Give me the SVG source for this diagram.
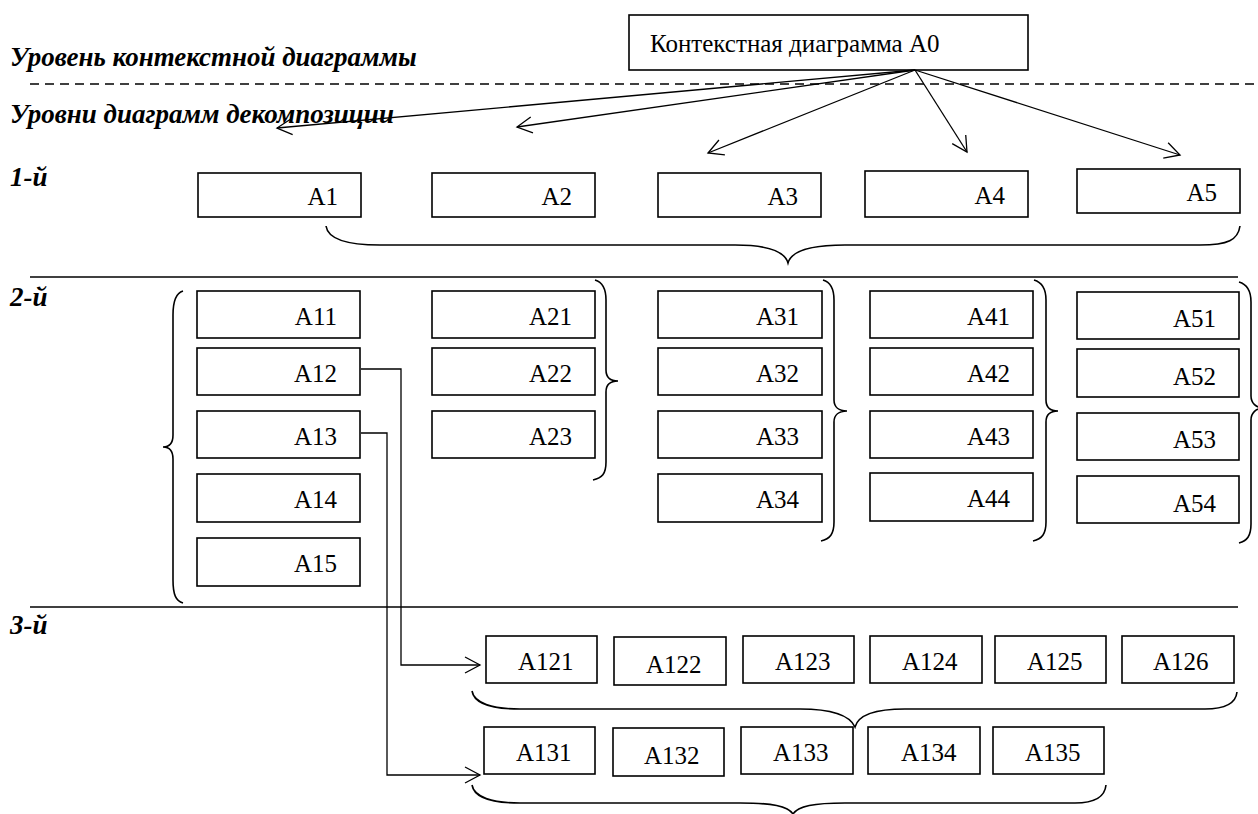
<svg xmlns="http://www.w3.org/2000/svg" width="1258" height="814" viewBox="0 0 1258 814" font-family="Liberation Serif">
  <defs>
    <style>
      text { font-family: "Liberation Serif", serif !important; fill: #000000; stroke: none; }
      .lbl { font-size: 25px; }
      .lvl { font-size: 27px; font-weight: bold; font-style: italic; }
      .box { fill: #ffffff; stroke: #000000; stroke-width: 1.6; }
      .rule { stroke: #000000; stroke-width: 1.6; fill: none; }
      .dash { stroke: #000000; stroke-width: 1.6; stroke-dasharray: 9 6; fill: none; }
      .brace { stroke: #000000; stroke-width: 1.6; fill: none; }
      .link { stroke: #000000; stroke-width: 1.3; fill: none; }
    </style>
    <marker id="open-arrow" markerUnits="userSpaceOnUse" markerWidth="20" markerHeight="20" refX="16" refY="9" orient="auto">
      <path d="M1,1 L16,9 L1,17" fill="none" stroke="#000000" stroke-width="1.3"/>
    </marker>
  </defs>

  <rect x="0" y="0" width="1258" height="814" fill="#ffffff"/>

  <!-- level captions and separators -->
  <g id="levels">
    <text class="lvl" style="font-family: 'Liberation Serif' !important" x="10" y="66">Уровень контекстной диаграммы</text>
    <text class="lvl" style="font-family: 'Liberation Serif' !important" x="10" y="123">Уровни диаграмм декомпозиции</text>
    <text class="lvl" style="font-family: 'Liberation Serif' !important" x="10" y="186">1-й</text>
    <text class="lvl" style="font-family: 'Liberation Serif' !important" x="10" y="306">2-й</text>
    <text class="lvl" style="font-family: 'Liberation Serif' !important" x="10" y="634">3-й</text>
    <line class="dash" x1="30" y1="84" x2="1258" y2="84"/>
    <line class="rule" x1="30" y1="277" x2="1238" y2="277"/>
    <line class="rule" x1="30" y1="607" x2="1238" y2="607"/>
  </g>

  <!-- context diagram -->
  <g id="A0">
    <rect class="box" x="629" y="15" width="399" height="55"/>
    <text class="lbl" style="font-family: 'Liberation Serif' !important" x="650" y="52">Контекстная диаграмма A0</text>
  </g>

  <!-- level 1 -->
  <g id="A1"><rect class="box" x="198" y="173" width="163" height="44"/><text class="lbl" style="font-family: 'Liberation Serif' !important" x="338" y="205" text-anchor="end">A1</text></g>
  <g id="A2"><rect class="box" x="432" y="173" width="163" height="44"/><text class="lbl" style="font-family: 'Liberation Serif' !important" x="572" y="205" text-anchor="end">A2</text></g>
  <g id="A3"><rect class="box" x="658" y="173" width="163" height="44"/><text class="lbl" style="font-family: 'Liberation Serif' !important" x="798" y="205" text-anchor="end">A3</text></g>
  <g id="A4"><rect class="box" x="865" y="171" width="163" height="46"/><text class="lbl" style="font-family: 'Liberation Serif' !important" x="1005" y="204" text-anchor="end">A4</text></g>
  <g id="A5"><rect class="box" x="1077" y="169" width="163" height="44"/><text class="lbl" style="font-family: 'Liberation Serif' !important" x="1217" y="201" text-anchor="end">A5</text></g>

  <!-- level 2, column 1 -->
  <g id="A11"><rect class="box" x="197" y="291" width="163" height="47"/><text class="lbl" style="font-family: 'Liberation Serif' !important" x="337" y="325" text-anchor="end">A11</text></g>
  <g id="A12"><rect class="box" x="197" y="348" width="163" height="47"/><text class="lbl" style="font-family: 'Liberation Serif' !important" x="337" y="382" text-anchor="end">A12</text></g>
  <g id="A13"><rect class="box" x="197" y="411" width="163" height="47"/><text class="lbl" style="font-family: 'Liberation Serif' !important" x="337" y="445" text-anchor="end">A13</text></g>
  <g id="A14"><rect class="box" x="197" y="474" width="163" height="48"/><text class="lbl" style="font-family: 'Liberation Serif' !important" x="337" y="508" text-anchor="end">A14</text></g>
  <g id="A15"><rect class="box" x="197" y="538" width="163" height="48"/><text class="lbl" style="font-family: 'Liberation Serif' !important" x="337" y="572" text-anchor="end">A15</text></g>

  <!-- level 2, column 2 -->
  <g id="A21"><rect class="box" x="432" y="291" width="163" height="47"/><text class="lbl" style="font-family: 'Liberation Serif' !important" x="572" y="325" text-anchor="end">A21</text></g>
  <g id="A22"><rect class="box" x="432" y="348" width="163" height="47"/><text class="lbl" style="font-family: 'Liberation Serif' !important" x="572" y="382" text-anchor="end">A22</text></g>
  <g id="A23"><rect class="box" x="432" y="411" width="163" height="47"/><text class="lbl" style="font-family: 'Liberation Serif' !important" x="572" y="445" text-anchor="end">A23</text></g>

  <!-- level 2, column 3 -->
  <g id="A31"><rect class="box" x="658" y="291" width="164" height="47"/><text class="lbl" style="font-family: 'Liberation Serif' !important" x="799" y="325" text-anchor="end">A31</text></g>
  <g id="A32"><rect class="box" x="658" y="348" width="164" height="47"/><text class="lbl" style="font-family: 'Liberation Serif' !important" x="799" y="382" text-anchor="end">A32</text></g>
  <g id="A33"><rect class="box" x="658" y="411" width="164" height="47"/><text class="lbl" style="font-family: 'Liberation Serif' !important" x="799" y="445" text-anchor="end">A33</text></g>
  <g id="A34"><rect class="box" x="658" y="474" width="164" height="48"/><text class="lbl" style="font-family: 'Liberation Serif' !important" x="799" y="508" text-anchor="end">A34</text></g>

  <!-- level 2, column 4 -->
  <g id="A41"><rect class="box" x="870" y="291" width="163" height="47"/><text class="lbl" style="font-family: 'Liberation Serif' !important" x="1010" y="325" text-anchor="end">A41</text></g>
  <g id="A42"><rect class="box" x="870" y="348" width="163" height="47"/><text class="lbl" style="font-family: 'Liberation Serif' !important" x="1010" y="382" text-anchor="end">A42</text></g>
  <g id="A43"><rect class="box" x="870" y="411" width="163" height="47"/><text class="lbl" style="font-family: 'Liberation Serif' !important" x="1010" y="445" text-anchor="end">A43</text></g>
  <g id="A44"><rect class="box" x="870" y="473" width="163" height="48"/><text class="lbl" style="font-family: 'Liberation Serif' !important" x="1010" y="507" text-anchor="end">A44</text></g>

  <!-- level 2, column 5 -->
  <g id="A51"><rect class="box" x="1077" y="292" width="162" height="47"/><text class="lbl" style="font-family: 'Liberation Serif' !important" x="1216" y="327" text-anchor="end">A51</text></g>
  <g id="A52"><rect class="box" x="1077" y="349" width="162" height="48"/><text class="lbl" style="font-family: 'Liberation Serif' !important" x="1216" y="385" text-anchor="end">A52</text></g>
  <g id="A53"><rect class="box" x="1077" y="413" width="162" height="47"/><text class="lbl" style="font-family: 'Liberation Serif' !important" x="1216" y="448" text-anchor="end">A53</text></g>
  <g id="A54"><rect class="box" x="1077" y="476" width="162" height="47"/><text class="lbl" style="font-family: 'Liberation Serif' !important" x="1216" y="512" text-anchor="end">A54</text></g>

  <!-- level 3, row A12 -->
  <g id="A121"><rect class="box" x="486" y="636" width="111" height="47"/><text class="lbl" style="font-family: 'Liberation Serif' !important" x="518" y="670">A121</text></g>
  <g id="A122"><rect class="box" x="614" y="637" width="112" height="48"/><text class="lbl" style="font-family: 'Liberation Serif' !important" x="646" y="673">A122</text></g>
  <g id="A123"><rect class="box" x="743" y="636" width="111" height="47"/><text class="lbl" style="font-family: 'Liberation Serif' !important" x="775" y="670">A123</text></g>
  <g id="A124"><rect class="box" x="870" y="636" width="112" height="47"/><text class="lbl" style="font-family: 'Liberation Serif' !important" x="902" y="670">A124</text></g>
  <g id="A125"><rect class="box" x="995" y="636" width="111" height="47"/><text class="lbl" style="font-family: 'Liberation Serif' !important" x="1027" y="670">A125</text></g>
  <g id="A126"><rect class="box" x="1122" y="636" width="112" height="47"/><text class="lbl" style="font-family: 'Liberation Serif' !important" x="1153" y="670">A126</text></g>

  <!-- level 3, row A13 -->
  <g id="A131"><rect class="box" x="484" y="727" width="111" height="47"/><text class="lbl" style="font-family: 'Liberation Serif' !important" x="516" y="761">A131</text></g>
  <g id="A132"><rect class="box" x="613" y="728" width="111" height="48"/><text class="lbl" style="font-family: 'Liberation Serif' !important" x="644" y="764">A132</text></g>
  <g id="A133"><rect class="box" x="741" y="727" width="112" height="47"/><text class="lbl" style="font-family: 'Liberation Serif' !important" x="773" y="761">A133</text></g>
  <g id="A134"><rect class="box" x="868" y="727" width="112" height="47"/><text class="lbl" style="font-family: 'Liberation Serif' !important" x="901" y="761">A134</text></g>
  <g id="A135"><rect class="box" x="993" y="727" width="111" height="47"/><text class="lbl" style="font-family: 'Liberation Serif' !important" x="1025" y="761">A135</text></g>

  <!-- grouping braces -->
  <g id="braces">
    <!-- under level 1 -->
    <path class="brace" d="M326,226 C328,240 350,245 380,245 L735,245 C770,245 785,252 788,263 C791,252 806,245 845,245 L1200,245 C1228,245 1238,240 1240,226"/>
    <!-- level 2 columns -->
    <path class="brace" d="M183,291 C176,293 173,300 173,315 L173,435 C173,443 170,447 163,447 C170,447 173,451 173,459 L173,580 C173,595 176,601 183,603"/>
    <path class="brace" d="M595,280 C602,282 606,288 606,300 L606,370 C606,377 610,381 618,381 C610,381 606,385 606,392 L606,462 C606,474 602,478 593,480"/>
    <path class="brace" d="M823,280 C830,282 834,288 834,300 L834,400 C834,407 839,411 847,411 C839,411 834,415 834,422 L834,522 C834,534 830,539 821,541"/>
    <path class="brace" d="M1034,280 C1041,282 1046,288 1046,300 L1046,400 C1046,407 1050,411 1058,411 C1050,411 1046,415 1046,422 L1046,522 C1046,534 1042,539 1033,541"/>
    <path class="brace" d="M1239,282 C1246,284 1251,290 1251,302 L1251,396 C1251,403 1256,408 1264,408 C1256,408 1251,413 1251,420 L1251,524 C1251,536 1247,541 1239,543"/>
    <!-- under level 3 rows -->
    <path class="brace" d="M472,691 C474,703 492,709 520,709 L800,709 C835,709 850,716 855,727 C858,716 872,709 905,709 L1205,709 C1228,709 1236,702 1237,692"/>
    <path class="brace" d="M472,785 C474,797 492,803 520,803 L740,803 C772,803 788,806 793,814 C798,806 814,803 845,803 L1075,803 C1097,803 1105,796 1106,785"/>
  </g>

  <!-- connectors -->
  <g id="connectors">
    <line class="link" x1="915" y1="70" x2="277" y2="128" marker-end="url(#open-arrow)"/>
    <line class="link" x1="915" y1="70" x2="517" y2="127" stroke-width="2" marker-end="url(#open-arrow)"/>
    <line class="link" x1="915" y1="70" x2="708" y2="153" marker-end="url(#open-arrow)"/>
    <line class="link" x1="915" y1="70" x2="967" y2="152" marker-end="url(#open-arrow)"/>
    <line class="link" x1="915" y1="70" x2="1180" y2="155" marker-end="url(#open-arrow)"/>
    <polyline class="link" points="361,369 401,369 401,665 480,665" marker-end="url(#open-arrow)"/>
    <polyline class="link" points="361,433 387,433 387,775 480,775" marker-end="url(#open-arrow)"/>
  </g>
</svg>
